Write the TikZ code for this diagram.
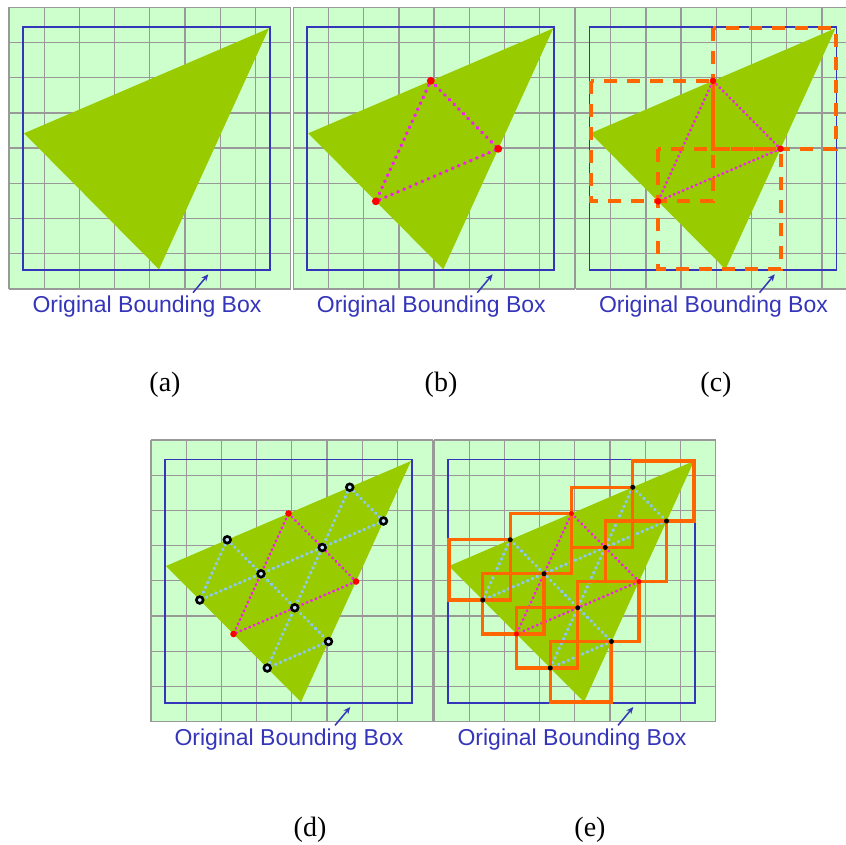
\documentclass[tikz,border=0pt]{standalone}
\usepackage{fontspec}
\setmainfont{Liberation Serif}
\newfontfamily\arialfont{Liberation Sans}
\usetikzlibrary{arrows.meta}
\definecolor{bggreen}{HTML}{CCFFCC}
\definecolor{gridgray}{HTML}{999999}
\definecolor{bbblue}{HTML}{3535BB}
\definecolor{trigreen}{HTML}{99CC00}
\definecolor{dotmag}{HTML}{F020F0}
\definecolor{dotblue}{HTML}{8CC8F0}
\definecolor{boxorange}{HTML}{FF6600}
\definecolor{ptred}{HTML}{FF0000}
\tikzset{
  gridline/.style={draw=gridgray, line width=1.3pt},
  bbox/.style={draw=bbblue, line width=1.8pt},
  tri/.style={fill=trigreen},
  caption/.style={text=bbblue, font=\arialfont\fontsize{23}{26}\selectfont, inner sep=0pt},
  sublabel/.style={font=\fontsize{28}{32}\selectfont, inner sep=0pt},
  bbarrow/.style={draw=bbblue, line width=1.5pt, -{Stealth[length=7pt,width=6pt]}},
  magbig/.style={draw=dotmag, line width=3.6pt, line cap=round, dash pattern=on 0.5pt off 6.1pt},
  magsmall/.style={draw=dotmag, line width=2.9pt, line cap=round, dash pattern=on 0.4pt off 4.4pt},
  bluedot/.style={draw=dotblue, line width=3.3pt, line cap=round, dash pattern=on 0.6pt off 4.6pt},
  redbig/.style={circle, fill=ptred, inner sep=0pt, minimum size=7.8pt},
  redsmall/.style={circle, fill=ptred, inner sep=0pt, minimum size=6.6pt},
  blackring/.style={circle, draw=black, line width=2.6pt, fill=dotblue!50!white, inner sep=0pt, minimum size=6.8pt},
  blacksmall/.style={circle, fill=black, inner sep=0pt, minimum size=5pt},
  obdash/.style={draw=boxorange, line width=4pt, dash pattern=on 13pt off 10pt},
  obsolid/.style={draw=boxorange, line width=3.3pt},
}
\newcommand\panelbase[1]{%
  \fill[bggreen] (0,0) rectangle (281.6,281.6);
  \foreach \k in {0,...,8}{%
    \draw[gridline] (\k*35.2,0) -- (\k*35.2,281.6);
    \draw[gridline] (0,\k*35.2) -- (281.6,\k*35.2);
  }
  \coordinate (#1T) at (260,21);
  \coordinate (#1L) at (15,126);
  \coordinate (#1B) at (150,262);
  \coordinate (#1mTL) at (137.5,73.5);
  \coordinate (#1mTB) at (205,141.5);
  \coordinate (#1mLB) at (82.5,194);
  \coordinate (#1qa) at (198.75,47.25);
  \coordinate (#1qb) at (232.5,81);
  \coordinate (#1qc) at (76.25,99.75);
  \coordinate (#1qd) at (48.75,160);
  \coordinate (#1qe) at (116.25,228);
  \coordinate (#1qf) at (177.5,201.5);
  \coordinate (#1ca) at (171.25,107.5);
  \coordinate (#1cb) at (110,133.75);
  \coordinate (#1cc) at (143.75,167.75);
  \fill[tri] (#1T) -- (#1L) -- (#1B) -- cycle;
  \draw[bbox] (14,19.5) rectangle (261,263);
  \node[caption] (#1cap) at (138,299.5) {Original Bounding Box};
  \coordinate (#1tail) at (184,285.4);
  \coordinate (#1tip) at (199.3,267);
  \draw[bbarrow] (#1tail) -- (#1tip);
}
\newcommand\bluelines[1]{%
  \draw[bluedot] (#1qa) -- (#1qb);
  \draw[bluedot] (#1qc) -- (#1qf);
  \draw[bluedot] (#1qc) -- (#1qd);
  \draw[bluedot] (#1qa) -- (#1qe);
  \draw[bluedot] (#1qf) -- (#1qe);
  \draw[bluedot] (#1qb) -- (#1qd);
}
\begin{document}
\begin{tikzpicture}[x=1pt,y=-1pt]
\useasboundingbox (0,0) rectangle (846,844);
\clip (0,0) rectangle (846,844);
\fill[white] (0,0) rectangle (846,844);
% (a)
\begin{scope}[shift={(9,7.3)}]
  \panelbase{a}
\end{scope}
% (b)
\begin{scope}[shift={(293.3,7.3)}]
  \panelbase{b}
  \draw[magbig] (bmTL) -- (bmTB) -- (bmLB) -- cycle;
  \node[redbig] (bp1) at (bmTL) {};
  \node[redbig] (bp2) at (bmTB) {};
  \node[redbig] (bp3) at (bmLB) {};
\end{scope}
% (c)
\begin{scope}[shift={(575.5,7.3)}]
  \panelbase{c}
  \draw[magsmall] (cmTL) -- (cmTB) -- (cmLB) -- cycle;
  \draw[obdash] (cmTL |- cT) rectangle (cT |- cmTB);
  \draw[obdash] (cL |- cmTL) rectangle (cmTL |- cmLB);
  \draw[obdash] (cmLB |- cmTB) rectangle (cmTB |- cB);
  \node[redsmall] (cp1) at (cmTL) {};
  \node[redsmall] (cp2) at (cmTB) {};
  \node[redsmall] (cp3) at (cmLB) {};
\end{scope}
% (d)
\begin{scope}[shift={(151,440)}]
  \panelbase{d}
  \bluelines{d}
  \draw[magsmall] (dmTL) -- (dmTB) -- (dmLB) -- cycle;
  \node[redsmall] (dp1) at (dmTL) {};
  \node[redsmall] (dp2) at (dmTB) {};
  \node[redsmall] (dp3) at (dmLB) {};
  \foreach \p in {qa,qb,qc,qd,qe,qf,ca,cb,cc}{\node[blackring] (dk\p) at (d\p) {};}
\end{scope}
% (e)
\begin{scope}[shift={(434,440)}]
  \panelbase{e}
  \bluelines{e}
  \draw[magsmall] (emTL) -- (emTB) -- (emLB) -- cycle;
  \draw[obsolid] (eqa |- eT) rectangle (eT |- eqb);
  \draw[obsolid] (emTL |- eqa) rectangle (eqa |- eca);
  \draw[obsolid] (eca |- eqb) rectangle (eqb |- emTB);
  \draw[obsolid] (eqc |- emTL) rectangle (emTL |- ecb);
  \draw[obsolid] (eL |- eqc) rectangle (eqc |- eqd);
  \draw[obsolid] (eqd |- ecb) rectangle (ecb |- emLB);
  \draw[obsolid] (emLB |- ecc) rectangle (ecc |- eqe);
  \draw[obsolid] (ecc |- emTB) rectangle (emTB |- eqf);
  \draw[obsolid] (eqe |- eqf) rectangle (eqf |- eB);
  \node[blacksmall, fill=ptred] (ep1) at (emTL) {};
  \node[blacksmall, fill=ptred] (ep2) at (emTB) {};
  \node[blacksmall, fill=ptred] (ep3) at (emLB) {};
  \foreach \p in {qa,qb,qc,qd,qe,qf,ca,cb,cc}{\node[blacksmall] (ek\p) at (e\p) {};}
\end{scope}
% sub-figure labels
\node[sublabel] (labA) at (165,385) {(a)};
\node[sublabel] (labB) at (441,385) {(b)};
\node[sublabel] (labC) at (716,385) {(c)};
\node[sublabel] (labD) at (310,830) {(d)};
\node[sublabel] (labE) at (590,830) {(e)};
\end{tikzpicture}
\end{document}
